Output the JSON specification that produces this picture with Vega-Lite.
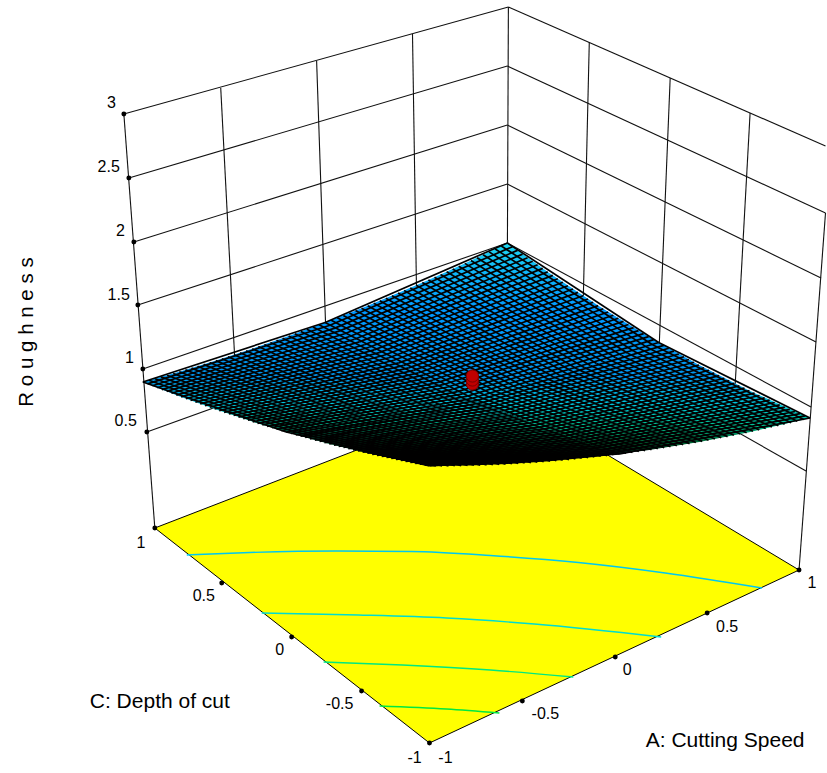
{"$schema":"https://vega.github.io/schema/vega-lite/v6.json","width":827,"height":773,"padding":0,"autosize":{"type":"fit","contains":"padding"},"background":"white","config":{"view":{"stroke":null}},
"datasets":{
"walls":[{"x":124,"y":114,"x2":509,"y2":7},{"x":129,"y":178,"x2":508,"y2":66},{"x":134,"y":242,"x2":508,"y2":125},{"x":138,"y":305,"x2":508,"y2":184},{"x":143,"y":369,"x2":508,"y2":243},{"x":147,"y":432,"x2":508,"y2":302},{"x":509,"y":7,"x2":826.5,"y2":146},{"x":508,"y":66,"x2":826.5,"y2":213},{"x":508,"y":125,"x2":822,"y2":278},{"x":508,"y":184,"x2":817,"y2":342},{"x":508,"y":243,"x2":812,"y2":407},{"x":508,"y":302,"x2":807,"y2":471},{"x":124,"y":114,"x2":155,"y2":528},{"x":509,"y":7,"x2":508,"y2":250},{"x":826.5,"y":213,"x2":800,"y2":570},{"x":221,"y":88,"x2":235,"y2":358},{"x":317,"y":61,"x2":326,"y2":325},{"x":413,"y":34,"x2":417,"y2":290},{"x":590,"y":42,"x2":584,"y2":299},{"x":671,"y":78,"x2":660,"y2":346},{"x":751,"y":113,"x2":736,"y2":386}],
"floor":[{"x":155,"y":528,"y2":528},{"x":430,"y":422,"y2":743},{"x":505,"y":393,"y2":708},{"x":800,"y":570,"y2":570}],
"flooredge":[{"x":155,"y":528,"x2":430,"y2":743},{"x":430,"y":743,"x2":800,"y2":570},{"x":800,"y":570,"x2":505,"y2":393},{"x":505,"y":393,"x2":155,"y2":528}],
"contours":[{"c":"c1","x":187,"y":555},{"c":"c1","x":250,"y":552.5},{"c":"c1","x":337,"y":551},{"c":"c1","x":412,"y":551.5},{"c":"c1","x":491,"y":555.5},{"c":"c1","x":579,"y":562.5},{"c":"c1","x":666,"y":573},{"c":"c1","x":763,"y":588},{"c":"c2","x":262,"y":613},{"c":"c2","x":359,"y":615},{"c":"c2","x":447,"y":618},{"c":"c2","x":535,"y":624},{"c":"c2","x":662,"y":637},{"c":"c3","x":324,"y":662},{"c":"c3","x":403,"y":665},{"c":"c3","x":491,"y":670},{"c":"c3","x":574,"y":677},{"c":"c4","x":380,"y":706},{"c":"c4","x":447,"y":709},{"c":"c4","x":500,"y":713}],
"surface":[{"x":143,"y":382,"y2":382},{"x":180,"y":371.5,"y2":396.4},{"x":217,"y":360.3,"y2":409.8},{"x":254,"y":348.2,"y2":422.1},{"x":291,"y":335.2,"y2":433.3},{"x":328,"y":321.5,"y2":443.5},{"x":365,"y":307,"y2":452.6},{"x":402,"y":291.5,"y2":460.6},{"x":430,"y":279.4,"y2":466},{"x":470,"y":261.2,"y2":465.5},{"x":508,"y":243,"y2":464},{"x":550,"y":273,"y2":461.3},{"x":600,"y":306.3,"y2":456.5},{"x":650,"y":337,"y2":450},{"x":700,"y":365.1,"y2":441.9},{"x":750,"y":390.5,"y2":432.2},{"x":811,"y":418,"y2":418}],
"mesh":[
{"x0":430,"y0":466,"x1":286.5,"y1":432,"x2":143,"y2":382},
{"x0":436.4,"y0":466,"x1":292.7,"y1":431.2,"x2":149.1,"y2":380.3},
{"x0":442.7,"y0":465.9,"x1":298.9,"y1":430.4,"x2":155.2,"y2":378.7},
{"x0":449.1,"y0":465.9,"x1":305.2,"y1":429.6,"x2":161.2,"y2":376.9},
{"x0":455.4,"y0":465.8,"x1":311.4,"y1":428.8,"x2":167.3,"y2":375.2},
{"x0":461.8,"y0":465.7,"x1":317.6,"y1":427.9,"x2":173.4,"y2":373.5},
{"x0":468.1,"y0":465.5,"x1":323.8,"y1":427,"x2":179.5,"y2":371.7},
{"x0":474.5,"y0":465.3,"x1":330,"y1":426.1,"x2":185.6,"y2":369.9},
{"x0":480.8,"y0":465.1,"x1":336.2,"y1":425.2,"x2":191.7,"y2":368.1},
{"x0":487.2,"y0":464.9,"x1":342.5,"y1":424.2,"x2":197.7,"y2":366.3},
{"x0":493.5,"y0":464.7,"x1":348.7,"y1":423.2,"x2":203.8,"y2":364.4},
{"x0":499.9,"y0":464.4,"x1":354.9,"y1":422.2,"x2":209.9,"y2":362.5},
{"x0":506.2,"y0":464.1,"x1":361.1,"y1":421.1,"x2":216,"y2":360.6},
{"x0":512.6,"y0":463.8,"x1":367.3,"y1":420.1,"x2":222.1,"y2":358.7},
{"x0":518.9,"y0":463.4,"x1":373.5,"y1":419,"x2":228.2,"y2":356.7},
{"x0":525.3,"y0":463,"x1":379.8,"y1":417.9,"x2":234.2,"y2":354.8},
{"x0":531.6,"y0":462.6,"x1":386,"y1":416.7,"x2":240.3,"y2":352.8},
{"x0":538,"y0":462.2,"x1":392.2,"y1":415.6,"x2":246.4,"y2":350.8},
{"x0":544.3,"y0":461.7,"x1":398.4,"y1":414.4,"x2":252.5,"y2":348.7},
{"x0":550.7,"y0":461.2,"x1":404.6,"y1":413.2,"x2":258.6,"y2":346.6},
{"x0":557,"y0":460.7,"x1":410.8,"y1":411.9,"x2":264.7,"y2":344.6},
{"x0":563.4,"y0":460.1,"x1":417.1,"y1":410.7,"x2":270.7,"y2":342.5},
{"x0":569.7,"y0":459.6,"x1":423.3,"y1":409.4,"x2":276.8,"y2":340.3},
{"x0":576.1,"y0":459,"x1":429.5,"y1":408.1,"x2":282.9,"y2":338.2},
{"x0":582.4,"y0":458.3,"x1":435.7,"y1":406.8,"x2":289,"y2":336},
{"x0":588.8,"y0":457.7,"x1":441.9,"y1":405.4,"x2":295.1,"y2":333.8},
{"x0":595.1,"y0":457,"x1":448.1,"y1":404,"x2":301.2,"y2":331.6},
{"x0":601.5,"y0":456.3,"x1":454.4,"y1":402.6,"x2":307.2,"y2":329.3},
{"x0":607.8,"y0":455.6,"x1":460.6,"y1":401.2,"x2":313.3,"y2":327.1},
{"x0":614.2,"y0":454.8,"x1":466.8,"y1":399.7,"x2":319.4,"y2":324.8},
{"x0":620.5,"y0":454,"x1":473,"y1":398.3,"x2":325.5,"y2":322.5},
{"x0":626.9,"y0":453.2,"x1":479.2,"y1":396.7,"x2":331.6,"y2":320.2},
{"x0":633.2,"y0":452.4,"x1":485.4,"y1":395.2,"x2":337.7,"y2":317.8},
{"x0":639.6,"y0":451.5,"x1":491.7,"y1":393.7,"x2":343.7,"y2":315.5},
{"x0":645.9,"y0":450.6,"x1":497.9,"y1":392.1,"x2":349.8,"y2":313.1},
{"x0":652.3,"y0":449.7,"x1":504.1,"y1":390.5,"x2":355.9,"y2":310.6},
{"x0":658.6,"y0":448.7,"x1":510.3,"y1":388.9,"x2":362,"y2":308.2},
{"x0":665,"y0":447.8,"x1":516.5,"y1":387.2,"x2":368.1,"y2":305.7},
{"x0":671.3,"y0":446.8,"x1":522.7,"y1":385.5,"x2":374.2,"y2":303.3},
{"x0":677.7,"y0":445.7,"x1":529,"y1":383.8,"x2":380.2,"y2":300.8},
{"x0":684,"y0":444.7,"x1":535.2,"y1":382.1,"x2":386.3,"y2":298.2},
{"x0":690.4,"y0":443.6,"x1":541.4,"y1":380.4,"x2":392.4,"y2":295.7},
{"x0":696.7,"y0":442.5,"x1":547.6,"y1":378.6,"x2":398.5,"y2":293.1},
{"x0":703.1,"y0":441.4,"x1":553.8,"y1":376.8,"x2":404.6,"y2":290.5},
{"x0":709.4,"y0":440.2,"x1":560,"y1":375,"x2":410.7,"y2":287.9},
{"x0":715.8,"y0":439,"x1":566.3,"y1":373.1,"x2":416.7,"y2":285.3},
{"x0":722.1,"y0":437.8,"x1":572.5,"y1":371.3,"x2":422.8,"y2":282.6},
{"x0":728.5,"y0":436.6,"x1":578.7,"y1":369.4,"x2":428.9,"y2":279.9},
{"x0":734.8,"y0":435.3,"x1":584.9,"y1":367.4,"x2":435,"y2":277.2},
{"x0":741.2,"y0":434,"x1":591.1,"y1":365.5,"x2":441.1,"y2":274.5},
{"x0":747.5,"y0":432.7,"x1":597.3,"y1":363.5,"x2":447.2,"y2":271.7},
{"x0":753.9,"y0":431.3,"x1":603.6,"y1":361.5,"x2":453.2,"y2":269},
{"x0":760.2,"y0":430,"x1":609.8,"y1":359.5,"x2":459.3,"y2":266.2},
{"x0":766.6,"y0":428.6,"x1":616,"y1":357.5,"x2":465.4,"y2":263.4},
{"x0":772.9,"y0":427.1,"x1":622.2,"y1":355.4,"x2":471.5,"y2":260.5},
{"x0":779.3,"y0":425.7,"x1":628.4,"y1":353.3,"x2":477.6,"y2":257.7},
{"x0":785.6,"y0":424.2,"x1":634.6,"y1":351.2,"x2":483.7,"y2":254.8},
{"x0":792,"y0":422.7,"x1":640.9,"y1":349.1,"x2":489.7,"y2":251.9},
{"x0":798.3,"y0":421.2,"x1":647.1,"y1":346.9,"x2":495.8,"y2":249},
{"x0":804.7,"y0":419.6,"x1":653.3,"y1":344.7,"x2":501.9,"y2":246},
{"x0":811,"y0":418,"x1":659.5,"y1":342.5,"x2":508,"y2":243},
{"x0":430,"y0":466,"x1":620.5,"y1":454,"x2":811,"y2":418},
{"x0":425.2,"y0":465.1,"x1":615.6,"y1":452.5,"x2":806,"y2":415.9},
{"x0":420.4,"y0":464.2,"x1":610.7,"y1":450.9,"x2":800.9,"y2":413.7},
{"x0":415.7,"y0":463.3,"x1":605.8,"y1":449.3,"x2":795.9,"y2":411.5},
{"x0":410.9,"y0":462.4,"x1":600.8,"y1":447.7,"x2":790.8,"y2":409.3},
{"x0":406.1,"y0":461.4,"x1":595.9,"y1":446.1,"x2":785.8,"y2":407.1},
{"x0":401.3,"y0":460.5,"x1":591,"y1":444.4,"x2":780.7,"y2":404.8},
{"x0":396.5,"y0":459.5,"x1":586.1,"y1":442.8,"x2":775.7,"y2":402.5},
{"x0":391.7,"y0":458.5,"x1":581.2,"y1":441.1,"x2":770.6,"y2":400.2},
{"x0":387,"y0":457.5,"x1":576.2,"y1":439.4,"x2":765.6,"y2":397.9},
{"x0":382.2,"y0":456.4,"x1":571.3,"y1":437.6,"x2":760.5,"y2":395.5},
{"x0":377.4,"y0":455.4,"x1":566.4,"y1":435.9,"x2":755.5,"y2":393.1},
{"x0":372.6,"y0":454.3,"x1":561.5,"y1":434.1,"x2":750.4,"y2":390.7},
{"x0":367.8,"y0":453.2,"x1":556.6,"y1":432.3,"x2":745.4,"y2":388.2},
{"x0":363,"y0":452.1,"x1":551.7,"y1":430.5,"x2":740.3,"y2":385.8},
{"x0":358.3,"y0":451,"x1":546.7,"y1":428.6,"x2":735.3,"y2":383.3},
{"x0":353.5,"y0":449.9,"x1":541.8,"y1":426.8,"x2":730.2,"y2":380.7},
{"x0":348.7,"y0":448.7,"x1":536.9,"y1":424.9,"x2":725.2,"y2":378.2},
{"x0":343.9,"y0":447.5,"x1":532,"y1":422.9,"x2":720.1,"y2":375.6},
{"x0":339.1,"y0":446.3,"x1":527.1,"y1":421,"x2":715.1,"y2":373},
{"x0":334.3,"y0":445.1,"x1":522.2,"y1":419.1,"x2":710,"y2":370.3},
{"x0":329.6,"y0":443.9,"x1":517.2,"y1":417.1,"x2":705,"y2":367.7},
{"x0":324.8,"y0":442.6,"x1":512.3,"y1":415.1,"x2":699.9,"y2":365},
{"x0":320,"y0":441.4,"x1":507.4,"y1":413,"x2":694.9,"y2":362.3},
{"x0":315.2,"y0":440.1,"x1":502.5,"y1":411,"x2":689.8,"y2":359.5},
{"x0":310.4,"y0":438.8,"x1":497.6,"y1":408.9,"x2":684.8,"y2":356.8},
{"x0":305.6,"y0":437.5,"x1":492.7,"y1":406.8,"x2":679.7,"y2":354},
{"x0":300.9,"y0":436.1,"x1":487.7,"y1":404.7,"x2":674.7,"y2":351.1},
{"x0":296.1,"y0":434.8,"x1":482.8,"y1":402.6,"x2":669.6,"y2":348.3},
{"x0":291.3,"y0":433.4,"x1":477.9,"y1":400.4,"x2":664.6,"y2":345.4},
{"x0":286.5,"y0":432,"x1":473,"y1":398.3,"x2":659.5,"y2":342.5},
{"x0":281.7,"y0":430.6,"x1":468.1,"y1":396.1,"x2":654.5,"y2":339.6},
{"x0":276.9,"y0":429.2,"x1":463.2,"y1":393.8,"x2":649.4,"y2":336.6},
{"x0":272.2,"y0":427.7,"x1":458.2,"y1":391.6,"x2":644.4,"y2":333.6},
{"x0":267.4,"y0":426.3,"x1":453.3,"y1":389.3,"x2":639.3,"y2":330.6},
{"x0":262.6,"y0":424.8,"x1":448.4,"y1":387,"x2":634.3,"y2":327.6},
{"x0":257.8,"y0":423.3,"x1":443.5,"y1":384.7,"x2":629.2,"y2":324.5},
{"x0":253,"y0":421.8,"x1":438.6,"y1":382.4,"x2":624.2,"y2":321.4},
{"x0":248.2,"y0":420.2,"x1":433.7,"y1":380,"x2":619.1,"y2":318.3},
{"x0":243.5,"y0":418.7,"x1":428.7,"y1":377.6,"x2":614.1,"y2":315.2},
{"x0":238.7,"y0":417.1,"x1":423.8,"y1":375.2,"x2":609,"y2":312},
{"x0":233.9,"y0":415.5,"x1":418.9,"y1":372.8,"x2":604,"y2":308.8},
{"x0":229.1,"y0":413.9,"x1":414,"y1":370.4,"x2":598.9,"y2":305.6},
{"x0":224.3,"y0":412.3,"x1":409.1,"y1":367.9,"x2":593.9,"y2":302.3},
{"x0":219.5,"y0":410.7,"x1":404.2,"y1":365.4,"x2":588.8,"y2":299},
{"x0":214.8,"y0":409,"x1":399.2,"y1":362.9,"x2":583.8,"y2":295.8},
{"x0":210,"y0":407.3,"x1":394.3,"y1":360.3,"x2":578.7,"y2":292.4},
{"x0":205.2,"y0":405.6,"x1":389.4,"y1":357.8,"x2":573.7,"y2":289},
{"x0":200.4,"y0":403.9,"x1":384.5,"y1":355.2,"x2":568.6,"y2":285.7},
{"x0":195.6,"y0":402.2,"x1":379.6,"y1":352.6,"x2":563.6,"y2":282.3},
{"x0":190.8,"y0":400.5,"x1":374.7,"y1":349.9,"x2":558.5,"y2":278.8},
{"x0":186.1,"y0":398.7,"x1":369.7,"y1":347.3,"x2":553.5,"y2":275.4},
{"x0":181.3,"y0":396.9,"x1":364.8,"y1":344.7,"x2":548.4,"y2":271.9},
{"x0":176.5,"y0":395.1,"x1":359.9,"y1":341.9,"x2":543.4,"y2":268.4},
{"x0":171.7,"y0":393.3,"x1":355,"y1":339.2,"x2":538.3,"y2":264.8},
{"x0":166.9,"y0":391.4,"x1":350.1,"y1":336.5,"x2":533.3,"y2":261.3},
{"x0":162.1,"y0":389.6,"x1":345.2,"y1":333.7,"x2":528.2,"y2":257.7},
{"x0":157.4,"y0":387.7,"x1":340.2,"y1":330.9,"x2":523.2,"y2":254.1},
{"x0":152.6,"y0":385.8,"x1":335.3,"y1":328.1,"x2":518.1,"y2":250.4},
{"x0":147.8,"y0":383.9,"x1":330.4,"y1":325.3,"x2":513.1,"y2":246.7},
{"x0":143,"y0":382,"x1":325.5,"y1":322.5,"x2":508,"y2":243}],
"dots":[{"x":124,"y":114},{"x":129,"y":178},{"x":134,"y":242},{"x":138,"y":305},{"x":143,"y":369},{"x":147,"y":432},{"x":155,"y":528},{"x":222,"y":583},{"x":292,"y":637},{"x":362,"y":691},{"x":430,"y":743},{"x":523,"y":701},{"x":616,"y":657},{"x":708,"y":613},{"x":800,"y":570}],
"design":[{"x":473,"y":384},{"x":473,"y":380},{"x":473,"y":376}],
"zlabels":[{"t":"3","x":116,"y":103},{"t":"2.5","x":120,"y":167},{"t":"2","x":125,"y":231},{"t":"1.5","x":130,"y":295},{"t":"1","x":134,"y":358},{"t":"0.5","x":137,"y":421}],
"ticklabels":[{"t":"1","x":141,"y":543},{"t":"0.5","x":204,"y":596},{"t":"0","x":280,"y":650},{"t":"-0.5","x":340,"y":704},{"t":"-1","x":415,"y":758},{"t":"-1","x":446,"y":758},{"t":"-0.5","x":546,"y":714},{"t":"0","x":628,"y":670},{"t":"0.5","x":728,"y":627},{"t":"1","x":813,"y":583}],
"titles":[{"t":"C: Depth of cut","x":160,"y":702},{"t":"A: Cutting Speed","x":726,"y":741}],
"ztitle":[{"t":"R o u g h n e s s","x":27,"y":332}]
},
"encoding":{"x":{"field":"x","type":"quantitative","scale":{"domain":[0,827]},"axis":null},"y":{"field":"y","type":"quantitative","scale":{"domain":[773,0]},"axis":null}},
"layer":[
{"data":{"name":"walls"},"mark":{"type":"rule","color":"#111111","strokeWidth":1.1},"encoding":{"x2":{"field":"x2"},"y2":{"field":"y2"}}},
{"data":{"name":"floor"},"mark":{"type":"area","color":"#ffff00","orient":"vertical"},"encoding":{"y2":{"field":"y2"}}},
{"data":{"name":"flooredge"},"mark":{"type":"rule","color":"#000000","strokeWidth":1},"encoding":{"x2":{"field":"x2"},"y2":{"field":"y2"}}},
{"data":{"name":"contours"},"mark":{"type":"line","strokeWidth":1.4,"interpolate":"monotone"},"encoding":{"color":{"field":"c","type":"nominal","legend":null,"scale":{"domain":["c1","c2","c3","c4"],"range":["#00c8f0","#00dcd0","#00e880","#00e840"]}}}},
{"data":{"name":"surface"},"mark":{"type":"area","orient":"vertical","color":{"gradient":"linear","x1":0,"y1":0,"x2":0,"y2":1,"stops":[{"offset":0,"color":"#20d8f0"},{"offset":0.12,"color":"#10b8f8"},{"offset":0.3,"color":"#0098ff"},{"offset":0.6,"color":"#0098f0"},{"offset":0.72,"color":"#00c8e0"},{"offset":0.82,"color":"#00c090"},{"offset":0.9,"color":"#006030"},{"offset":0.95,"color":"#000000"},{"offset":1,"color":"#000000"}]}},"encoding":{"y2":{"field":"y2"}}},
{"data":{"name":"mesh"},"mark":{"type":"rule","color":"#000000","strokeWidth":1.7},"encoding":{"x":{"field":"x0","type":"quantitative","scale":{"domain":[0,827]},"axis":null},"y":{"field":"y0","type":"quantitative","scale":{"domain":[773,0]},"axis":null},"x2":{"field":"x1"},"y2":{"field":"y1"}}},
{"data":{"name":"mesh"},"mark":{"type":"rule","color":"#000000","strokeWidth":1.7},"encoding":{"x":{"field":"x1","type":"quantitative","scale":{"domain":[0,827]},"axis":null},"y":{"field":"y1","type":"quantitative","scale":{"domain":[773,0]},"axis":null},"x2":{"field":"x2"},"y2":{"field":"y2"}}},
{"data":{"name":"dots"},"mark":{"type":"circle","color":"#000000","size":24,"opacity":1}},
{"data":{"name":"design"},"mark":{"type":"point","shape":"circle","filled":true,"fill":"#c00000","stroke":"#7a0000","strokeWidth":1,"size":150,"opacity":1}},
{"data":{"name":"zlabels"},"mark":{"type":"text","font":"Liberation Sans","fontSize":16,"color":"#000000","baseline":"middle","align":"right"},"encoding":{"text":{"field":"t"}}},
{"data":{"name":"ticklabels"},"mark":{"type":"text","font":"Liberation Sans","fontSize":16,"color":"#000000","baseline":"middle","align":"center"},"encoding":{"text":{"field":"t"}}},
{"data":{"name":"titles"},"mark":{"type":"text","font":"Liberation Sans","fontSize":21,"color":"#000000","baseline":"middle","align":"center"},"encoding":{"text":{"field":"t"}}},
{"data":{"name":"ztitle"},"mark":{"type":"text","font":"Liberation Sans","fontSize":20.5,"color":"#000000","baseline":"middle","align":"center","angle":270},"encoding":{"text":{"field":"t"}}}
]}
